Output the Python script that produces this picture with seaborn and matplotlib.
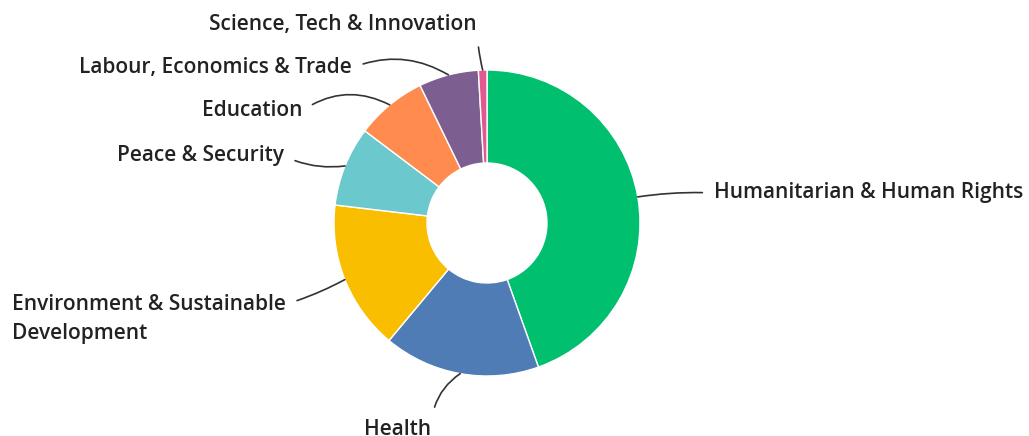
import matplotlib
matplotlib.use('Agg')
import matplotlib.pyplot as plt
import seaborn as sns
import numpy as np

categories = ['Humanitarian & Human Rights', 'Health', 'Environment & Sustainable\nDevelopment',
              'Peace & Security', 'Education', 'Labour, Economics & Trade', 'Science, Tech & Innovation']
values = [44.5, 16.5, 15.8, 8.4, 7.5, 6.3, 0.9]
colors = ['#00BF6F', '#507CB6', '#F9BE00', '#6BC8CD', '#FF8B4F', '#7D5E90', '#E05A8F']

sns.set_theme(style='white')
plt.rcParams['font.family'] = ['Open Sans', 'DejaVu Sans']

W, H = 1029, 436
fig = plt.figure(figsize=(W / 100, H / 100), dpi=100)
ax = fig.add_axes([0, 0, 1, 1])

cx, cy, R = 487, 213, 153
wedges, _ = ax.pie(values, colors=colors, startangle=90, counterclock=False,
                   center=(cx, cy), radius=R, frame=True,
                   wedgeprops=dict(width=93, edgecolor='white', linewidth=1))
ax.set_xlim(0, W)
ax.set_ylim(0, H)
ax.set_aspect('equal')
ax.axis('off')

# label layout: text position, alignment, anchor on text box, curvature
label_pos = [
    ((714, 243), 'left', (0, 0.5), 0.05),
    ((398, 7), 'center', (1, 0.7), -0.25),
    ((12, 117), 'left', (1, 0.8), 0.05),
    ((284, 280), 'right', (1, 0.5), 0.15),
    ((302, 325), 'right', (1, 0.5), -0.3),
    ((352, 368), 'right', (1, 0.5), -0.25),
    ((477, 411), 'right', (1, 0.3), 0.05),
]

for w, lab, (pos, ha, rel, rad) in zip(wedges, categories, label_pos):
    ang = np.deg2rad((w.theta1 + w.theta2) / 2)
    xy = (cx + R * np.cos(ang), cy + R * np.sin(ang))
    ax.annotate(lab, xy=xy, xytext=pos, ha=ha, va='center', fontsize=15,
                fontweight='semibold', color='#222222', linespacing=1.45,
                arrowprops=dict(arrowstyle='-', color='#333333', lw=1.2,
                                shrinkA=6, shrinkB=0, relpos=rel,
                                connectionstyle=f'arc3,rad={rad}'))

fig.savefig('out.png', dpi=100)
